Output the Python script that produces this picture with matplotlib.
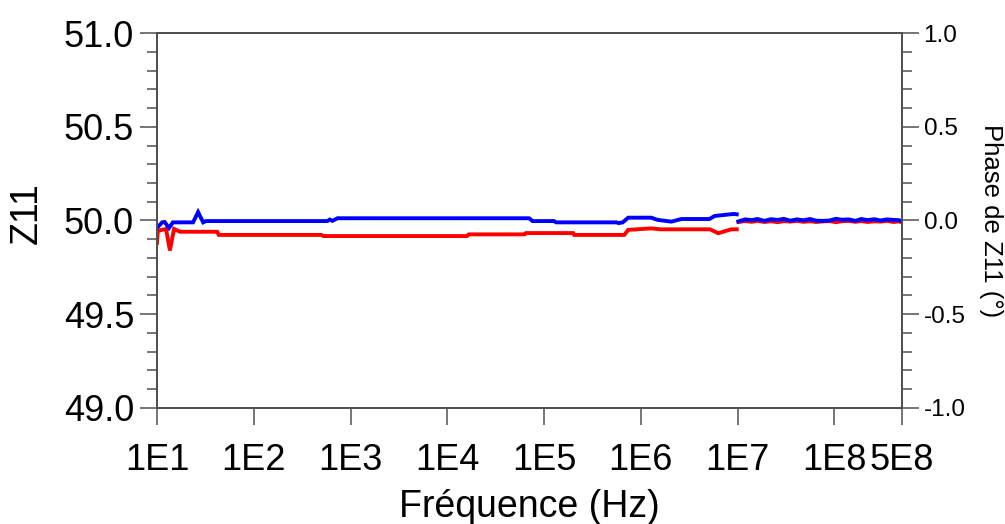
import numpy as np
import matplotlib
matplotlib.use('Agg')
from matplotlib import pyplot as plt
from matplotlib.ticker import FixedLocator, MultipleLocator

plt.rcParams['font.family'] = ['Liberation Sans', 'DejaVu Sans']

# first sweep, 10 Hz - 10 MHz
freq_lo = [10, 11.3, 12.0, 13.3, 14.6, 23.6, 26.6, 30, 32, 578, 610, 650, 733,
           7.0e4, 7.6e4, 1.27e5, 1.33e5, 5.6e5, 5.9e5, 6.5e5, 7.4e5, 1.28e6,
           1.5e6, 2.07e6, 2.63e6, 5.13e6, 5.78e6, 9.1e6, 9.8e6]
z11_lo = [49.960, 49.990, 49.992, 49.960, 49.990, 49.990, 50.045, 49.990, 49.997,
          49.997, 50.005, 49.998, 50.012, 50.012, 49.997, 49.997, 49.990, 49.990,
          49.986, 49.990, 50.015, 50.015, 50.003, 49.994, 50.008, 50.008, 50.024,
          50.035, 50.033]

freq_ph_lo = [10, 10.2, 12.4, 13.6, 15.0, 17.3, 41.9, 43.5, 500, 525, 1.6e4, 1.67e4,
              6.3e4, 6.5e4, 2.0e5, 2.05e5, 6.75e5, 7.4e5, 1.28e6, 1.6e6, 5.2e6,
              6.3e6, 8.6e6, 9.8e6]
phase_lo = [-0.120, -0.055, -0.045, -0.160, -0.045, -0.060, -0.060, -0.077, -0.077,
            -0.083, -0.083, -0.074, -0.074, -0.067, -0.067, -0.077, -0.077, -0.050,
            -0.042, -0.047, -0.047, -0.068, -0.047, -0.047]

# second sweep, 10 MHz - 500 MHz
freq_hi = [1.02e7, 1.2e7, 1.4e7, 1.6e7, 1.9e7, 2.2e7, 2.6e7, 3.0e7, 3.5e7, 4.1e7,
           4.8e7, 5.6e7, 6.5e7, 7.6e7, 8.9e7, 1.04e8, 1.2e8, 1.4e8, 1.65e8, 1.9e8,
           2.2e8, 2.6e8, 3.0e8, 3.5e8, 4.1e8, 4.6e8, 5.0e8]
z11_hi = [49.995, 50.006, 50.002, 50.008, 49.998, 50.007, 50.003, 50.009, 49.999,
          50.006, 50.001, 50.008, 49.999, 49.998, 50.000, 50.009, 50.004, 50.006,
          49.998, 50.008, 50.002, 50.007, 50.000, 50.006, 50.003, 50.002, 49.997]
phase_hi = [-0.008, -0.003, -0.007, -0.002, -0.008, -0.004, -0.009, -0.003, -0.006,
            -0.002, -0.007, -0.004, -0.008, -0.005, -0.003, -0.009, -0.004, -0.002,
            -0.007, -0.003, -0.008, -0.004, -0.006, -0.002, -0.008, -0.005, -0.009]

xtick_vals = [1e1, 1e2, 1e3, 1e4, 1e5, 1e6, 1e7, 1e8, 5e8]
xtick_labels = ['1E1', '1E2', '1E3', '1E4', '1E5', '1E6', '1E7', '1E8', '5E8']
z_ticks = [49.0, 49.5, 50.0, 50.5, 51.0]
ph_ticks = [-1.0, -0.5, 0.0, 0.5, 1.0]

axis_col = '#505050'

fig = plt.figure(figsize=(10.05, 5.24), dpi=100)
ax = fig.add_axes([0.1562, 0.2214, 0.7413, 0.7156])
ax2 = ax.twinx()
# keep the Z11 trace above the phase trace
ax.set_zorder(ax2.get_zorder() + 1)
ax.patch.set_visible(False)

ax2.plot(freq_ph_lo + [np.nan] + freq_hi, phase_lo + [np.nan] + phase_hi,
         color='#ff0000', lw=2.8, solid_joinstyle='miter')
ax.plot(freq_lo + [np.nan] + freq_hi, z11_lo + [np.nan] + z11_hi,
        color='#0000ff', lw=2.8, solid_joinstyle='miter')

ax.set_xscale('log')
ax.set_xlim(10, 5e8)
ax.xaxis.set_major_locator(FixedLocator(xtick_vals))
ax.xaxis.set_minor_locator(FixedLocator([]))
ax.set_xticklabels(xtick_labels)

ax.set_ylim(49.0, 51.0)
ax.set_yticks(z_ticks)
ax.set_yticklabels(['%.1f' % v for v in z_ticks])
ax.yaxis.set_minor_locator(MultipleLocator(0.1))

ax2.set_ylim(-1.0, 1.0)
ax2.set_yticks(ph_ticks)
ax2.set_yticklabels(['%.1f' % v for v in ph_ticks])
ax2.yaxis.set_minor_locator(MultipleLocator(0.1))

for a in (ax, ax2):
    for s in a.spines.values():
        s.set_color(axis_col)
        s.set_linewidth(1.3)

ax.tick_params(axis='x', which='major', direction='out', length=12.5, width=1.1,
               color=axis_col, labelsize=26, pad=13)
ax.tick_params(axis='y', which='major', direction='out', length=12.5, width=1.1,
               color=axis_col, labelsize=26, pad=4)
ax.tick_params(axis='y', which='minor', direction='out', length=7.5, width=1.1,
               color=axis_col)
ax2.tick_params(axis='y', which='major', direction='out', length=12.5, width=1.1,
                color=axis_col, labelsize=17.5, pad=3)
ax2.tick_params(axis='y', which='minor', direction='out', length=7.5, width=1.1,
                color=axis_col)

ax.set_xlabel('Fréquence (Hz)', fontsize=27)
ax.xaxis.set_label_coords(0.5, -0.215)
ax.set_ylabel('Z11', fontsize=27)
ax.yaxis.set_label_coords(-0.15, 0.52)
ax2.set_ylabel('Phase de Z11 (°)', fontsize=18.5, rotation=270)
ax2.yaxis.set_label_coords(1.136, 0.5)

fig.savefig('out.png', dpi=100)
